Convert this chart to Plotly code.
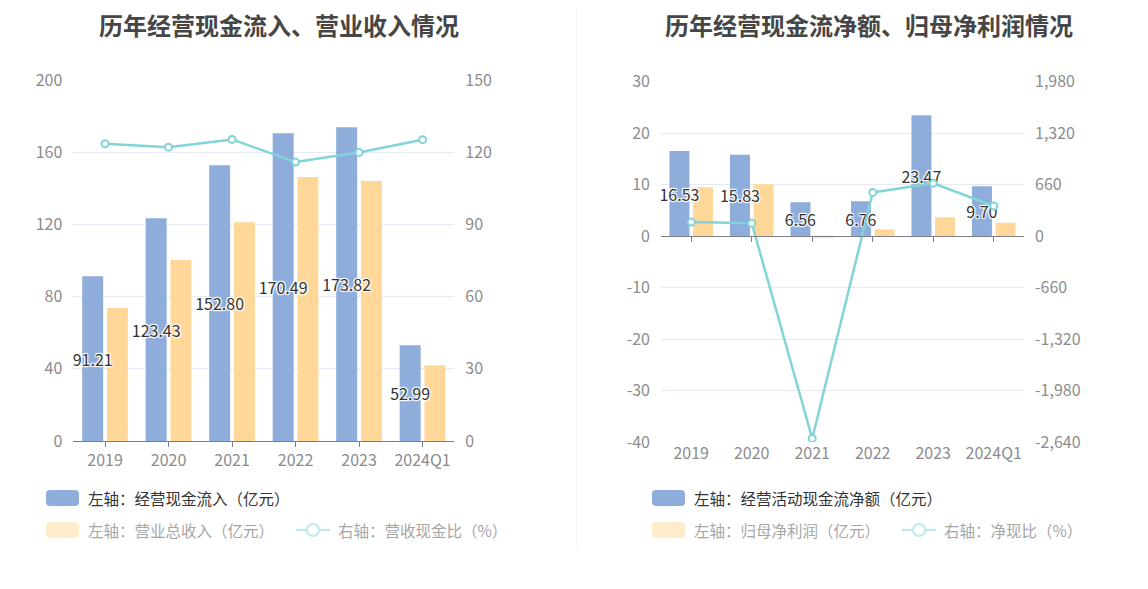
import plotly.graph_objects as go

OFF = 8                      # page body margin offset in the browser
W, H = 1148 - OFF, 589 - OFF

# ---------------- data ----------------
categories = ["2019", "2020", "2021", "2022", "2023", "2024Q1"]

# left chart
cash_inflow = [91.21, 123.43, 152.80, 170.49, 173.82, 52.99]      # 经营现金流入（亿元）
revenue = [73.7, 100.3, 121.2, 146.3, 144.0, 41.9]                 # 营业总收入（亿元）
cash_rev_ratio = [123.5, 122.1, 125.3, 115.9, 119.9, 125.2]        # 营收现金比（%）

# right chart
net_cash = [16.53, 15.83, 6.56, 6.76, 23.47, 9.70]                 # 经营活动现金流净额（亿元）
net_profit = [9.5, 10.1, -0.25, 1.3, 3.65, 2.6]                    # 归母净利润（亿元）
net_cash_ratio = [180, 165, -2595, 560, 677, 386]                  # 净现比（%）

# tick labels
l_y1_ticks = [0, 40, 80, 120, 160, 200]
l_y2_ticks = [0, 30, 60, 90, 120, 150]
r_y1_ticks = [-40, -30, -20, -10, 0, 10, 20, 30]
r_y1_text = ["-40", "-30", "-20", "-10", "0", "10", "20", "30"]
r_y2_ticks = [-2640, -1980, -1320, -660, 0, 660, 1320, 1980]
r_y2_text = ["-2,640", "-1,980", "-1,320", "-660", "0", "660", "1,320", "1,980"]

titles = ["历年经营现金流入、营业收入情况", "历年经营现金流净额、归母净利润情况"]
legend_left = ["左轴：经营现金流入（亿元）", "左轴：营业总收入（亿元）", "右轴：营收现金比（%）"]
legend_right = ["左轴：经营活动现金流净额（亿元）", "左轴：归母净利润（亿元）", "右轴：净现比（%）"]

# ---------------- style ----------------
BLUE = "#8eaddb"
YELLOW = "#ffd899"
TEAL = "#82d4d8"
GRID = "#e6e9f2"
AXIS = "#7a7d85"
FONT = "Noto Sans CJK SC, Noto Sans, sans-serif"
TICK_FONT = dict(family=FONT, size=16, color="#8c8c8c")
SHADOW = "1px 1px 1px #fff, -1px -1px 1px #fff, 1px -1px 1px #fff, -1px 1px 1px #fff, 0 0 2px #fff"

BAR_W = 0.33
BLUE_OFF = -0.36
YELLOW_OFF = 0.03


def px(x):
    return (x - OFF) / W


def py(y):
    return 1 - (y - OFF) / H


L_X = [px(73.3), px(454.3)]
L_Y = [py(441), py(80)]
R_X = [px(661), px(1024)]
R_Y = [py(442), py(81.7)]

fig = go.Figure()

label_font = dict(family=FONT, size=16, color="#333333", shadow=SHADOW)
line_style = dict(color=TEAL, width=2.5)
marker_style = dict(symbol="circle", size=7, color="white", line=dict(color=TEAL, width=2))

# left chart traces (yellow first so blue labels sit on top)
fig.add_trace(go.Bar(x=categories, y=revenue, name=legend_left[1], marker_color=YELLOW,
                     width=BAR_W, offset=YELLOW_OFF, xaxis="x", yaxis="y"))
fig.add_trace(go.Bar(x=categories, y=cash_inflow, name=legend_left[0], marker_color=BLUE,
                     width=BAR_W, offset=BLUE_OFF,
                     texttemplate="%{y:.2f}", textposition="inside", insidetextanchor="middle",
                     textangle=0, textfont=label_font, xaxis="x", yaxis="y"))
fig.add_trace(go.Scatter(x=categories, y=cash_rev_ratio, name=legend_left[2], mode="lines+markers",
                         line=line_style, marker=marker_style, xaxis="x", yaxis="y2"))

# right chart traces
fig.add_trace(go.Bar(x=categories, y=net_profit, name=legend_right[1], marker_color=YELLOW,
                     width=BAR_W, offset=YELLOW_OFF, xaxis="x2", yaxis="y3"))
fig.add_trace(go.Bar(x=categories, y=net_cash, name=legend_right[0], marker_color=BLUE,
                     width=BAR_W, offset=BLUE_OFF,
                     texttemplate="%{y:.2f}", textposition="inside", insidetextanchor="middle",
                     textangle=0, textfont=label_font, xaxis="x2", yaxis="y3"))
fig.add_trace(go.Scatter(x=categories, y=net_cash_ratio, name=legend_right[2], mode="lines+markers",
                         line=line_style, marker=marker_style, xaxis="x2", yaxis="y4"))
# helper trace for the zero-line category axis of the right chart
fig.add_trace(go.Scatter(x=categories, y=[0] * len(categories), mode="markers",
                         marker=dict(opacity=0), hoverinfo="skip", showlegend=False,
                         xaxis="x3", yaxis="y3"))

zero_pos = R_Y[0] + (0 - (-40)) / (30 - (-40)) * (R_Y[1] - R_Y[0])

fig.update_layout(
    template="none",
    width=W, height=H,
    margin=dict(l=0, r=0, t=0, b=0, pad=0, autoexpand=False),
    paper_bgcolor="white", plot_bgcolor="white",
    showlegend=False,
    barmode="overlay",
    uniformtext=dict(minsize=16, mode="show"),
    font=dict(family=FONT),
    xaxis=dict(domain=L_X, anchor="y", type="category", showline=True, linecolor=AXIS, linewidth=1,
               ticks="outside", ticklen=5, tickcolor=AXIS, tickfont=TICK_FONT, showgrid=False,
               automargin=False, zeroline=False),
    yaxis=dict(domain=L_Y, anchor="x", range=[0, 200], tickvals=l_y1_ticks, showgrid=True,
               gridcolor=GRID, gridwidth=1, zeroline=False, showline=False, tickfont=TICK_FONT,
               ticks="", ticklabelstandoff=10, automargin=False),
    yaxis2=dict(anchor="x", overlaying="y", side="right", range=[0, 150], tickvals=l_y2_ticks,
                showgrid=False, zeroline=False, showline=False, tickfont=TICK_FONT, ticks="",
                ticklabelstandoff=10, automargin=False),
    xaxis2=dict(domain=R_X, anchor="y3", type="category", showline=False, ticks="",
                tickfont=TICK_FONT, showgrid=False, automargin=False, zeroline=False),
    xaxis3=dict(matches="x2", overlaying="x2", anchor="free", position=zero_pos, type="category",
                showline=True, linecolor=AXIS, linewidth=1, ticks="outside", ticklen=5,
                tickcolor=AXIS, showticklabels=False, showgrid=False, automargin=False, zeroline=False),
    yaxis3=dict(domain=R_Y, anchor="x2", range=[-40, 30], tickvals=r_y1_ticks, ticktext=r_y1_text,
                showgrid=True, gridcolor=GRID, gridwidth=1, zeroline=False, showline=False,
                tickfont=TICK_FONT, ticks="", ticklabelstandoff=10, automargin=False),
    yaxis4=dict(anchor="x2", overlaying="y3", side="right", range=[-2640, 1980], tickvals=r_y2_ticks,
                ticktext=r_y2_text, showgrid=False, zeroline=False, showline=False, ticks="",
                tickfont=TICK_FONT, ticklabelstandoff=10, automargin=False),
)

# titles
for t, cx in zip(titles, [279, 869]):
    fig.add_annotation(text=t, x=px(cx), y=py(24), xref="paper", yref="paper",
                       showarrow=False, xanchor="center", yanchor="middle", borderpad=0,
                       font=dict(family=FONT, size=24, color="#464646", weight="bold"))

# divider
fig.add_shape(type="line", xref="paper", yref="paper", x0=px(577), x1=px(577), y0=py(OFF), y1=py(548),
              line=dict(color="#f0f0f0", width=1))


def rounded_rect(x0, y0, x1, y1, r):
    X0, X1 = px(x0), px(x1)
    Y0, Y1 = py(y0), py(y1)
    rx, ry = r / W, r / H
    return (f"M {X0+rx},{Y0} L {X1-rx},{Y0} Q {X1},{Y0} {X1},{Y0-ry} "
            f"L {X1},{Y1+ry} Q {X1},{Y1} {X1-rx},{Y1} L {X0+rx},{Y1} Q {X0},{Y1} {X0},{Y1+ry} "
            f"L {X0},{Y0-ry} Q {X0},{Y0} {X0+rx},{Y0} Z")


def legend_bar(x, y, color, text, tcolor):
    fig.add_shape(type="path", xref="paper", yref="paper", path=rounded_rect(x, y - 8, x + 33, y + 8, 4),
                  fillcolor=color, line=dict(width=0))
    fig.add_annotation(text=text, x=px(x + 40), y=py(y), xref="paper", yref="paper", showarrow=False,
                       xanchor="left", yanchor="middle", font=dict(family=FONT, size=15.5, color=tcolor))


def legend_line(x, y, color, text, tcolor):
    fig.add_shape(type="line", xref="paper", yref="paper", x0=px(x), x1=px(x + 34), y0=py(y), y1=py(y),
                  line=dict(color=color, width=2.5))
    fig.add_shape(type="circle", xref="paper", yref="paper", x0=px(x + 11), x1=px(x + 23),
                  y0=py(y - 6), y1=py(y + 6), fillcolor="white", line=dict(color=color, width=2))
    fig.add_annotation(text=text, x=px(x + 40), y=py(y), xref="paper", yref="paper", showarrow=False,
                       xanchor="left", yanchor="middle", font=dict(family=FONT, size=15.5, color=tcolor))


PALE_Y = "#ffecca"
PALE_T = "#c0e9eb"
DARK_T = "#333333"
FADE_T = "#a6a6a6"

legend_bar(46, 498, BLUE, legend_left[0], DARK_T)
legend_bar(46, 530, PALE_Y, legend_left[1], FADE_T)
legend_line(296, 530, PALE_T, legend_left[2], FADE_T)

legend_bar(652, 498, BLUE, legend_right[0], DARK_T)
legend_bar(652, 530, PALE_Y, legend_right[1], FADE_T)
legend_line(902, 530, PALE_T, legend_right[2], FADE_T)

fig.write_html("out.html")
